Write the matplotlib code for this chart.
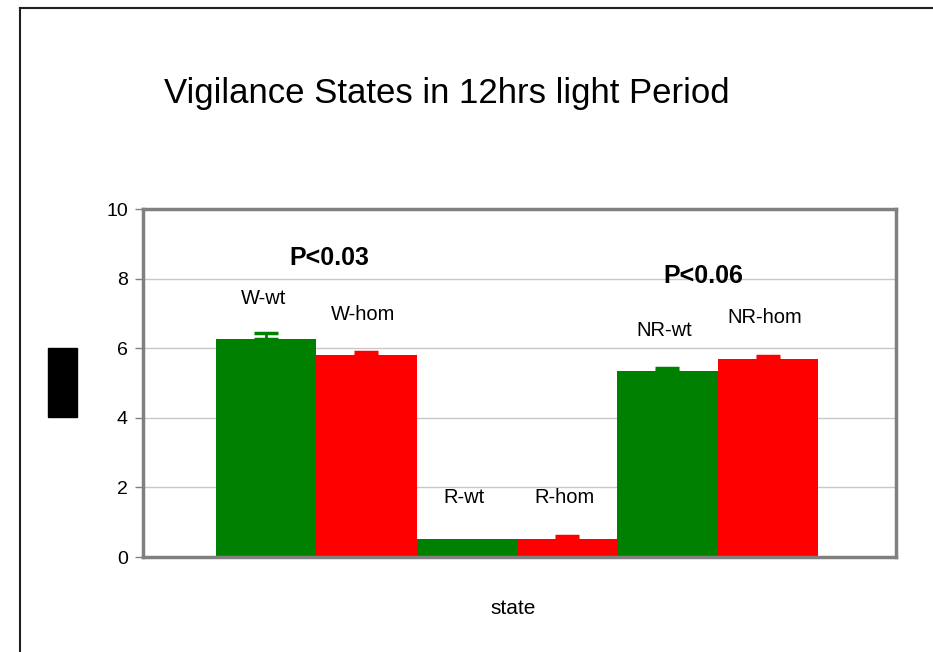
import matplotlib
matplotlib.use('Agg')
import matplotlib.pyplot as plt
from matplotlib.patches import Rectangle
from matplotlib.lines import Line2D

plt.rcParams['font.family'] = ['Liberation Sans', 'DejaVu Sans']

# group means and upper error (sem) for each state / genotype
labels = ['W-wt', 'W-hom', 'R-wt', 'R-hom', 'NR-wt', 'NR-hom']
means = [6.26, 5.80, 0.52, 0.52, 5.34, 5.69]
errs = [0.19, 0.08, 0.0, 0.08, 0.09, 0.09]
colors = ['#008000', '#ff0000', '#008000', '#ff0000', '#008000', '#ff0000']
pvals = ['P<0.03', 'P<0.06']
yticks = [0, 2, 4, 6, 8, 10]

fig = plt.figure(figsize=(9.33, 6.52), dpi=100)
ax = fig.add_axes([0.1533, 0.1457, 0.8071, 0.5337])

xs = list(range(len(labels)))
for x, m, e, c, lab in zip(xs, means, errs, colors, labels):
    ax.bar(x, m, width=1.0, color=c, zorder=2)
    if e > 0:
        ax.errorbar(x, m, yerr=[[0], [e]], fmt='none', ecolor=c, elinewidth=2,
                    capsize=8.5, capthick=2.5, zorder=3)
    ax.text(x - 0.03, m + 1.18, lab, ha='center', va='center', fontsize=14.5)

ax.text(0.627, 8.59, pvals[0], ha='center', va='center', fontsize=18, fontweight='bold')
ax.text(4.355, 8.07, pvals[1], ha='center', va='center', fontsize=18, fontweight='bold')

ax.set_xlim(-1.228, 6.28)
ax.set_ylim(0, 10)
ax.set_yticks(yticks)
ax.set_xticks([])
ax.tick_params(axis='y', labelsize=14, length=6, width=1, color='#808080', pad=5)
ax.yaxis.grid(True, color='#c8c8c8', linewidth=1, zorder=0)
ax.set_axisbelow(True)
for s in ax.spines.values():
    s.set_color('#808080')
    s.set_linewidth(2.5)

fig.text(446.5 / 933, 1 - 94 / 652, 'Vigilance States in 12hrs light Period',
         ha='center', va='center', fontsize=25)
fig.text(513 / 933, 1 - 609 / 652, 'state', ha='center', va='center', fontsize=15)

# covered axis title block
fig.patches.append(Rectangle((48 / 933, 1 - 417 / 652), 29 / 933, 69 / 652,
                             transform=fig.transFigure, color='black'))

# outer chart frame (cut off at right and bottom)
fig.lines.append(Line2D([20 / 933, 20 / 933], [0, 1 - 8 / 652],
                        transform=fig.transFigure, color='#202020', linewidth=1.5))
fig.lines.append(Line2D([20 / 933, 1], [1 - 8 / 652, 1 - 8 / 652],
                        transform=fig.transFigure, color='#202020', linewidth=1.5))

fig.savefig('out.png', dpi=100)
